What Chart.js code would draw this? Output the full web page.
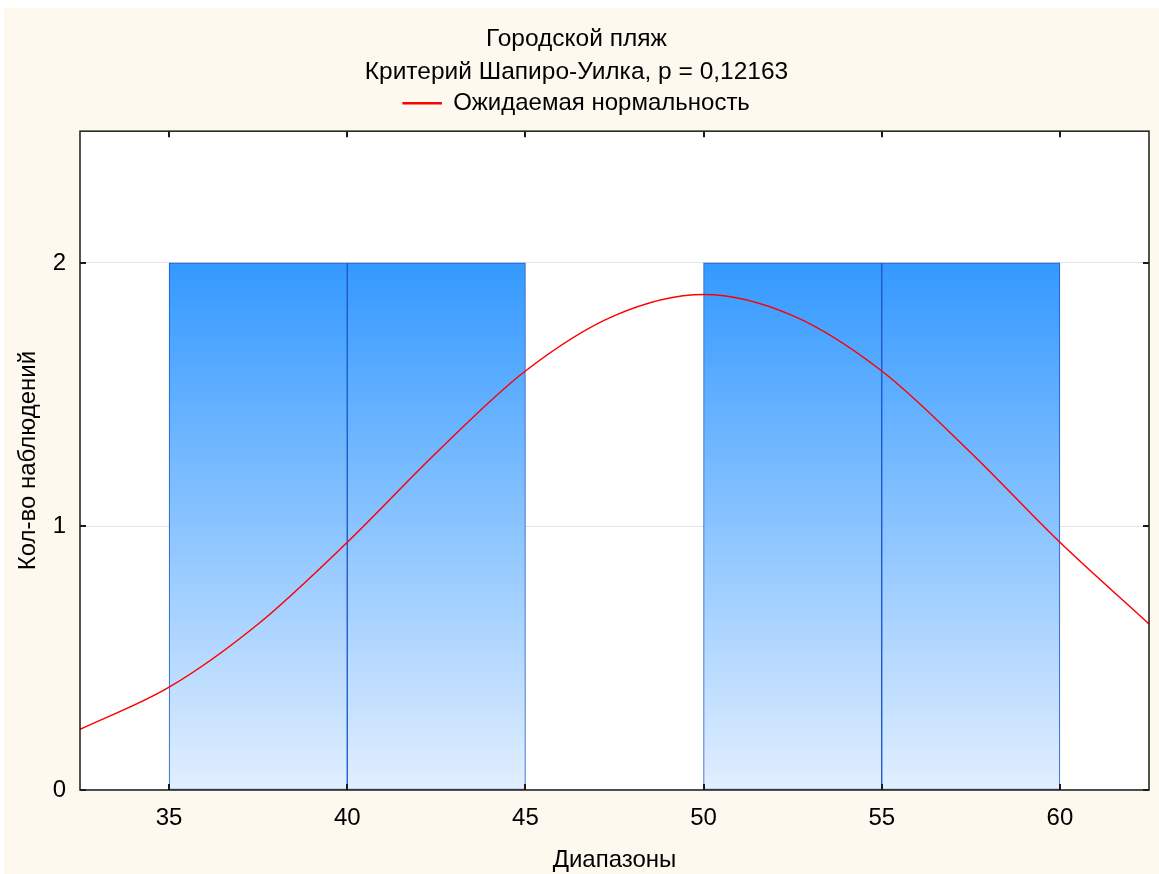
<!DOCTYPE html>
<html>
<head>
<meta charset="utf-8">
<script src="https://cdn.jsdelivr.net/npm/chart.js@4.4.0/dist/chart.umd.min.js"></script>
<style>
  body { margin: 0; background: #ffffff; }
  #wrap { position: absolute; left: 4px; top: 8px; width: 1155px; height: 866px; background: #fdf9ee; }
</style>
</head>
<body>
<div id="wrap"><canvas id="histChart"></canvas></div>
<script>
// histogram bins (centre of each 5-wide range) and counts
const binCenters = [37.5, 42.5, 47.5, 52.5, 57.5];
const binCounts = [2, 2, 0, 2, 2];

// expected normal curve
const curveX = [32.5, 35, 37.5, 40, 42.5, 45, 47.5, 50, 52.5, 55, 57.5, 60, 62.5];
const curveY = [0.23, 0.39, 0.63, 0.94, 1.28, 1.59, 1.80, 1.88, 1.80, 1.59, 1.28, 0.94, 0.63];

const xTicks = [35, 40, 45, 50, 55, 60];
const yTicks = [0, 1, 2];

const titleLines = ['Городской пляж', 'Критерий Шапиро-Уилка, p = 0,12163'];
const FONT = "'Liberation Sans', Arial, sans-serif";

Chart.defaults.font.family = FONT;
Chart.defaults.color = '#000';

// white plot background + black frame with inward tick marks
const framePlugin = {
    id: 'frame',
    beforeDraw(chart) {
        const a = chart.chartArea;
        const c = chart.ctx;
        c.save();
        c.fillStyle = '#ffffff';
        c.fillRect(a.left, a.top, a.right - a.left, a.bottom - a.top);
        c.restore();
    },
    afterDraw(chart) {
        const a = chart.chartArea;
        const c = chart.ctx;
        const sx = chart.scales.x;
        const sy = chart.scales.y;
        c.save();
        c.strokeStyle = '#1a1a1a';
        c.lineWidth = 1.5;
        c.strokeRect(a.left, a.top, a.right - a.left, a.bottom - a.top);
        c.lineWidth = 2;
        c.beginPath();
        xTicks.forEach(v => {
            const px = Math.round(sx.getPixelForValue(v));
            c.moveTo(px, a.top); c.lineTo(px, a.top + 6);
            c.moveTo(px, a.bottom); c.lineTo(px, a.bottom - 6);
        });
        yTicks.forEach(v => {
            const py = Math.round(sy.getPixelForValue(v));
            c.moveTo(a.left, py); c.lineTo(a.left + 6, py);
            c.moveTo(a.right, py); c.lineTo(a.right - 6, py);
        });
        c.stroke();
        c.restore();
    }
};

function barGradient(context) {
    const chart = context.chart;
    if (!chart.chartArea) return '#3399ff';
    const sy = chart.scales.y;
    const g = chart.ctx.createLinearGradient(0, sy.getPixelForValue(2), 0, sy.getPixelForValue(0));
    g.addColorStop(0, '#3399ff');
    g.addColorStop(1, '#e2efff');
    return g;
}

const ctx = document.getElementById('histChart').getContext('2d');

new Chart(ctx, {
    data: {
        datasets: [{
            type: 'line',
            label: 'Ожидаемая нормальность',
            data: curveX.map((x, i) => ({ x: x, y: curveY[i] })),
            borderColor: '#ff0000',
            backgroundColor: '#ff0000',
            borderWidth: 1.5,
            pointRadius: 0,
            cubicInterpolationMode: 'monotone',
            fill: false,
            order: 0
        }, {
            type: 'bar',
            label: 'hist',
            data: binCenters.map((x, i) => ({ x: x, y: binCounts[i] })),
            backgroundColor: barGradient,
            borderColor: '#1c56c8',
            borderWidth: 1,
            borderSkipped: false,
            barPercentage: 1,
            categoryPercentage: 1,
            order: 1
        }]
    },
    options: {
        responsive: true,
        maintainAspectRatio: false,
        animation: false,
        layout: { padding: { left: 0, right: 10, top: 0, bottom: 0 } },
        plugins: {
            title: {
                display: true,
                text: titleLines,
                color: '#000',
                font: { size: 24.5, weight: 'normal', lineHeight: 1.33 },
                padding: { top: 15, bottom: -21 }
            },
            legend: {
                display: true,
                labels: {
                    filter: item => item.text !== 'hist',
                    boxWidth: 38,
                    boxHeight: 1,
                    color: '#000',
                    font: { size: 24 },
                    padding: 24
                }
            },
            tooltip: { enabled: false }
        },
        scales: {
            x: {
                type: 'linear',
                offset: false,
                min: 32.5,
                max: 62.5,
                afterBuildTicks: scale => { scale.ticks = xTicks.map(v => ({ value: v })); },
                afterFit: scale => { scale.height = 84; },
                grid: { display: false, offset: false },
                border: { display: false },
                ticks: { font: { size: 24 }, color: '#000', padding: 6, maxRotation: 0 },
                title: {
                    display: true,
                    text: 'Диапазоны',
                    color: '#000',
                    font: { size: 24 },
                    padding: { top: 0, bottom: -1 }
                }
            },
            // empty top axis, only keeps a small gap under the legend
            xTop: {
                type: 'linear',
                position: 'top',
                min: 32.5,
                max: 62.5,
                afterFit: scale => { scale.height = 6; },
                grid: { display: false },
                border: { display: false },
                ticks: { display: false }
            },
            y: {
                min: 0,
                max: 2.5,
                afterBuildTicks: scale => { scale.ticks = yTicks.map(v => ({ value: v })); },
                afterFit: scale => { scale.width = 76; },
                grid: { color: '#e4e4e4', drawTicks: false },
                border: { display: false },
                ticks: { font: { size: 24 }, color: '#000', padding: 14 },
                title: {
                    display: true,
                    text: 'Кол-во наблюдений',
                    color: '#000',
                    font: { size: 24 },
                    padding: { top: 10, bottom: 0 }
                }
            }
        }
    },
    plugins: [framePlugin]
});
</script>
</body>
</html>
